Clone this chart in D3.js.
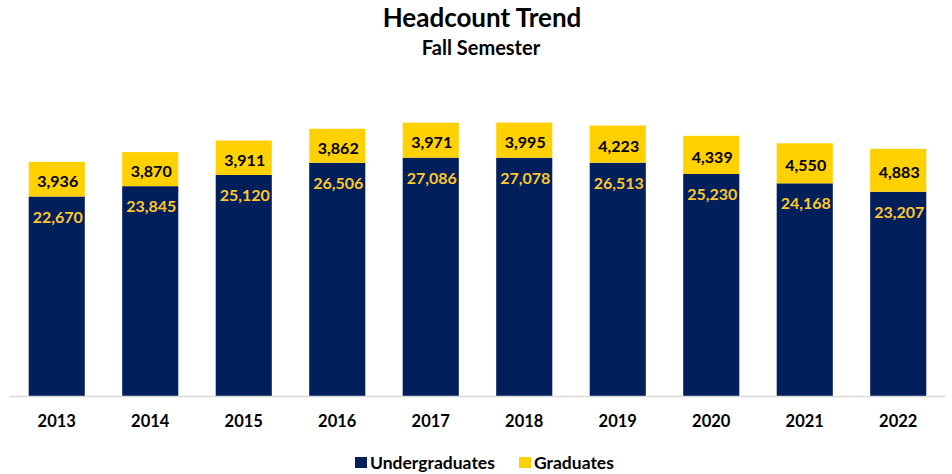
<!DOCTYPE html>
<html>
<head>
<meta charset="utf-8">
<script src="https://cdn.jsdelivr.net/npm/d3@7/dist/d3.min.js"></script>
<style>
	body { margin: 0; background: #fff; }
	text { font-family: Lato, "Open Sans", sans-serif; font-weight: bold; }
</style>
</head>
<body>
<svg id="chart" width="952" height="474"></svg>
<script>
const years = ["2013", "2014", "2015", "2016", "2017", "2018", "2019", "2020", "2021", "2022"]
const undergraduates = [22670, 23845, 25120, 26506, 27086, 27078, 26513, 25230, 24168, 23207]
const graduates = [3936, 3870, 3911, 3862, 3971, 3995, 4223, 4339, 4550, 4883]
const seriesNames = ["Undergraduates", "Graduates"]

const colours = {
	under: "#001F5B",
	grad: "#FFD100",
	underLabel: "#FFC72C",
	gradLabel: "#000",
}

const svg = d3.select("#chart")
const margin = { left: 10, right: 7, top: 88, bottom: 78 }
const width = 952 - margin.left - margin.right
const height = 474 - margin.top - margin.bottom

const rows = years.map((y, i) => ({ year: y, under: undergraduates[i], grad: graduates[i] }))
const stacked = d3.stack().keys(["under", "grad"])(rows)

const x = d3.scaleBand()
	.domain(years)
	.range([0, width])
	.paddingInner(0.4)
	.paddingOuter(0.2)

const y = d3.scaleLinear()
	.domain([0, 35000])
	.range([height, 0])

const g = svg.append("g")
	.attr("transform", `translate(${margin.left},${margin.top})`)

// Titles
svg.append("text")
	.attr("x", 482).attr("y", 27)
	.attr("text-anchor", "middle")
	.style("font-size", "26px")
	.text("Headcount Trend")
svg.append("text")
	.attr("x", 481).attr("y", 55)
	.attr("text-anchor", "middle")
	.style("font-size", "20px")
	.text("Fall Semester")

// Bars
const layers = g.selectAll("g.layer")
	.data(stacked)
	.join("g")
	.attr("class", "layer")
	.attr("fill", d => d.key === "under" ? colours.under : colours.grad)

layers.selectAll("rect")
	.data(d => d)
	.join("rect")
	.attr("x", d => x(d.data.year))
	.attr("width", x.bandwidth())
	.attr("y", d => y(d[1]))
	.attr("height", d => y(d[0]) - y(d[1]))

// Axis line
g.append("line")
	.attr("x1", 0).attr("x2", width)
	.attr("y1", height + 0.5).attr("y2", height + 0.5)
	.attr("stroke", "#d9d9d9")
	.attr("stroke-width", 1.5)

const xAxis = g.append("g")
	.attr("transform", `translate(0,${height})`)
	.call(d3.axisBottom(x).tickSize(0).tickPadding(19))
xAxis.select(".domain").remove()
xAxis.selectAll("text")
	.style("font-family", "Lato, sans-serif")
	.style("font-size", "16.5px")
	.style("font-weight", "bold")
	.attr("fill", "#000")

// Data labels
const fmt = d3.format(",")
g.selectAll("text.underLabel")
	.data(rows)
	.join("text")
	.attr("class", "underLabel")
	.attr("x", d => x(d.year) + x.bandwidth() / 2 + 1)
	.attr("y", d => y(d.under) + 26)
	.attr("text-anchor", "middle")
	.attr("fill", colours.underLabel)
	.style("font-size", "16px")
	.text(d => fmt(d.under))

g.selectAll("text.gradLabel")
	.data(rows)
	.join("text")
	.attr("class", "gradLabel")
	.attr("x", d => x(d.year) + x.bandwidth() / 2 + 1)
	.attr("y", d => (y(d.under) + y(d.under + d.grad)) / 2 + 8)
	.attr("text-anchor", "middle")
	.attr("fill", colours.gradLabel)
	.style("font-size", "16px")
	.text(d => fmt(d.grad))

// Legend
const legend = svg.append("g")
	.attr("transform", "translate(355,457)")
const legendX = [0, 164]
seriesNames.forEach((name, i) => {
	legend.append("rect")
		.attr("x", legendX[i]).attr("y", 0)
		.attr("width", 12).attr("height", 11)
		.attr("fill", i === 0 ? colours.under : colours.grad)
	legend.append("text")
		.attr("x", legendX[i] + 15).attr("y", 12)
		.style("font-size", "17.5px")
		.text(name)
})
</script>
</body>
</html>
